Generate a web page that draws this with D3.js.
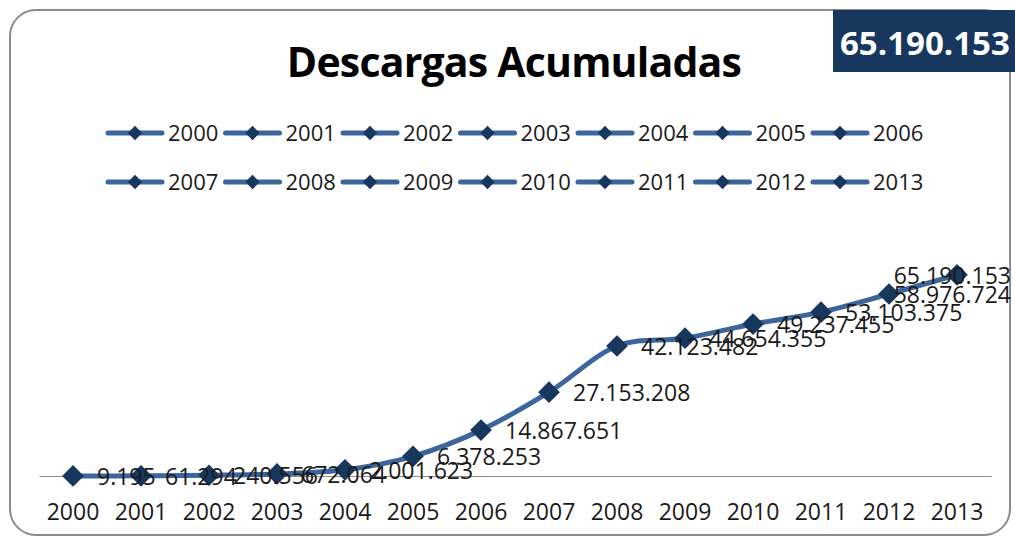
<!DOCTYPE html>
<html>
<head>
<meta charset="utf-8">
<script src="https://cdn.jsdelivr.net/npm/d3@7"></script>
<style>
  body { margin: 0; background: #fff; }
  text { font-family: "Open Sans", sans-serif; }
</style>
</head>
<body>
<svg width="1015" height="538"></svg>
<script>
const years = ["2000", "2001", "2002", "2003", "2004", "2005", "2006",
  "2007", "2008", "2009", "2010", "2011", "2012", "2013"];
const downloads = [9195, 61294, 240556, 672064, 2001623, 6378253, 14867651,
  27153208, 42123482, 44654355, 49237455, 53103375, 58976724, 65190153];
const totalLabel = "65.190.153";
const chartTitle = "Descargas Acumuladas";

const svg = d3.select("svg");
const width = +svg.attr("width");
const height = +svg.attr("height");

const lineColor = "#3b659b";
const markColor = "#17375e";

const es = d3.formatLocale({ decimal: ",", thousands: ".", grouping: [3], currency: ["", ""] });
const format = es.format(",d");

// outer rounded frame
svg.append("rect")
  .attr("x", 10).attr("y", 10)
  .attr("width", 1000).attr("height", 525)
  .attr("rx", 26).attr("ry", 26)
  .attr("fill", "#fff")
  .attr("stroke", "#8c8c8c")
  .attr("stroke-width", 2);

// total box top right
svg.append("rect")
  .attr("x", 833).attr("y", 10)
  .attr("width", 190).attr("height", 62)
  .attr("fill", markColor);
svg.append("text")
  .attr("x", 840).attr("y", 55)
  .attr("fill", "#fff")
  .attr("font-size", 33)
  .attr("font-weight", "bold")
  .text(totalLabel);

svg.append("text")
  .attr("x", 514).attr("y", 77)
  .attr("text-anchor", "middle")
  .attr("font-size", 41)
  .attr("font-weight", "bold")
  .attr("letter-spacing", -0.8)
  .attr("fill", "#000")
  .text(chartTitle);

// legend, two rows of seven
const diamond = d3.symbol().type(d3.symbolDiamond2);
const legend = svg.append("g")
  .selectAll("g")
  .data(years)
  .join("g")
  .attr("transform", (d, i) => "translate(" + (108 + (i % 7) * 117.5) + "," + (133 + Math.floor(i / 7) * 49) + ")");
legend.append("line")
  .attr("x1", 0).attr("x2", 54)
  .attr("stroke", lineColor)
  .attr("stroke-width", 5)
  .attr("stroke-linecap", "round");
legend.append("path")
  .attr("transform", "translate(27,0)")
  .attr("d", diamond.size(130))
  .attr("fill", markColor);
legend.append("text")
  .attr("x", 60).attr("dy", "0.35em")
  .attr("font-size", 22)
  .attr("fill", "#1a1a1a")
  .text(d => d);

const x = d3.scaleBand().domain(years).range([39, 991]);
const y = d3.scaleLinear().domain([0, 70000000]).range([476, 260]);
const cx = d => x(d) + x.bandwidth() / 2;

const xAxis = svg.append("g")
  .attr("transform", "translate(0,476)")
  .call(d3.axisBottom(x).tickSize(0).tickPadding(28));
xAxis.select(".domain").attr("stroke", "#8c8c8c").attr("stroke-width", 1.2);
xAxis.selectAll("text")
  .attr("font-size", 23)
  .attr("font-family", "Open Sans, sans-serif")
  .attr("fill", "#1a1a1a");

const points = years.map((yr, i) => ({ year: yr, value: downloads[i] }));

const line = d3.line()
  .x(d => cx(d.year))
  .y(d => y(d.value))
  .curve(d3.curveCardinal.tension(0));

svg.append("path")
  .datum(points)
  .attr("d", line)
  .attr("fill", "none")
  .attr("stroke", lineColor)
  .attr("stroke-width", 5);

svg.append("g")
  .selectAll("path")
  .data(points)
  .join("path")
  .attr("transform", d => "translate(" + cx(d.year) + "," + y(d.value) + ")")
  .attr("d", diamond.size(300))
  .attr("fill", markColor);

// value labels sit right of the point, pulled back inside the frame at the end
svg.append("g")
  .selectAll("text")
  .data(points)
  .join("text")
  .attr("y", d => y(d.value) + 1)
  .attr("dy", "0.35em")
  .attr("font-size", 23)
  .attr("fill", "#1a1a1a")
  .text(d => format(d.value))
  .attr("x", function (d) {
    const w = this.getComputedTextLength();
    return Math.min(cx(d.year) + 24, 1011 - w);
  });
</script>
</body>
</html>
